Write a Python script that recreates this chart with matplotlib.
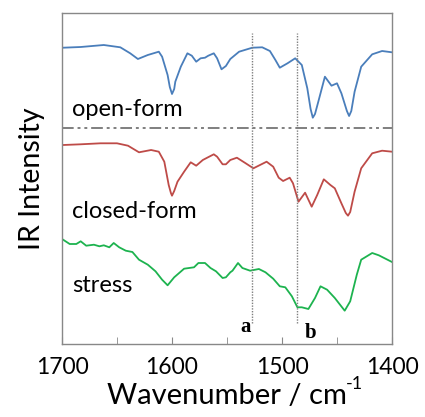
import matplotlib
matplotlib.use("Agg")
import matplotlib.pyplot as plt

# ---- data (wavenumber cm^-1, intensity in arbitrary units) ----
open_wn = [1699, 1683, 1662, 1647, 1638, 1631, 1622, 1612, 1609, 1604, 1602, 1600, 1598, 1597, 1592,
           1586, 1582, 1578, 1574, 1570, 1567, 1562, 1559, 1555, 1551, 1547, 1539, 1527,
           1518, 1511, 1506, 1502, 1495, 1488, 1482, 1477, 1474, 1472, 1470, 1467, 1461, 1455, 1450,
           1446, 1441, 1439, 1437, 1434, 1428, 1418, 1409, 1400]
open_I = [296.3, 297, 299, 296.7, 290.7, 285, 289, 292.3, 287.3, 269, 257, 250, 255, 262.3, 277.3,
          290.7, 288.3, 282.3, 285.7, 286.3, 288.3, 290.7, 285.7, 274.7, 278, 285, 292.3, 296.3,
          296.7, 293, 284, 276.3, 280.7, 285.7, 279, 255.7, 235, 226.3, 230, 242.3, 267.3, 258.3, 260.7,
          250.7, 233, 228, 233, 252.3, 277.3, 289.7, 293, 291.7]

closed_wn = [1699, 1683, 1665, 1650, 1640, 1630, 1619, 1612, 1607, 1603, 1601, 1600, 1598, 1595, 1589,
             1583, 1578, 1572, 1568, 1562, 1559, 1554, 1551, 1547, 1541, 1533, 1526, 1520,
             1514, 1508, 1503, 1499, 1493, 1490, 1485, 1479, 1473, 1468, 1462, 1456, 1452,
             1446, 1442, 1440, 1438, 1434, 1428, 1418, 1409, 1400]
closed_I = [199, 199.7, 200.7, 200.7, 198.3, 191.7, 194, 192.3, 182.3, 159, 151, 148.3, 153, 162.3, 172.3,
            181.7, 178.3, 184, 186.3, 189.7, 187.3, 179.7, 179.7, 184, 186.3, 180.7, 175.7, 179,
            182.3, 177.3, 166.3, 163, 166.3, 160.7, 142.3, 151.3, 137.3, 149, 164.7, 159, 155.7,
            140.7, 131, 128.3, 132, 152.3, 175.7, 190.7, 193.3, 192.3]

stress_wn = [1699, 1693, 1687, 1683, 1678, 1671, 1666, 1662, 1657, 1653, 1648, 1642, 1636,
             1630, 1622, 1615, 1609, 1604, 1598, 1589, 1580, 1576, 1570, 1565, 1560, 1554,
             1551, 1547, 1545, 1540, 1536, 1529, 1521, 1515, 1508, 1502, 1497, 1491, 1486,
             1482, 1476, 1470, 1465, 1459, 1452, 1443, 1438, 1432, 1428, 1418, 1412, 1400]
stress_I = [104.3, 100, 100, 102.7, 98.3, 99.3, 97.7, 98.7, 96.7, 101, 96.7, 93.3, 92,
            84.3, 79.3, 72.7, 64.3, 58.7, 66.7, 75.3, 76.7, 81, 81, 76, 72.7, 66,
            66.7, 71.7, 73.3, 81, 76, 73.3, 75, 71.7, 65.3, 57.7, 56.7, 47.7, 36.7,
            36.7, 35, 46, 57.7, 54.3, 46, 33.3, 42.7, 69.3, 84.3, 91, 88.7, 82]

marker_wn = [1527, 1486]
marker_labels = ["a", "b"]
series_labels = ["open-form", "closed-form", "stress"]
xticks_major = [1700, 1600, 1500, 1400]

FONT = "Lato"

# ---- figure ----
fig = plt.figure(figsize=(4.25, 4.17), dpi=100)
ax = fig.add_axes([62/425, 1 - 344/417, 330/425, 331/417])

ax.plot(open_wn, open_I, color="#4a7ebb", lw=1.3)
ax.plot(closed_wn, closed_I, color="#be4b48", lw=1.3)
ax.plot(stress_wn, stress_I, color="#1db34f", lw=1.3)

# separator
ax.axhline(216, color="#7f7f7f", lw=1.4, dashes=(6, 2, 1.5, 2, 1.5, 2))

# marker lines
for wn in marker_wn:
    ax.vlines(wn, 21, 311, color="#7f7f7f", lw=1.0, linestyles=(0, (1, 1)))

ax.text(1533, 17, marker_labels[0], family="Liberation Serif", weight="bold",
        fontsize=15, ha="center", va="center")
ax.text(1474, 11, marker_labels[1], family="Liberation Serif", weight="bold",
        fontsize=15, ha="center", va="center")

label_y = [228, 126, 52]
for lab, yy in zip(series_labels, label_y):
    ax.text(1691, yy, lab, family=FONT, fontsize=17, ha="left", va="baseline")

ax.set_xlim(1700, 1400)
ax.set_ylim(0, 331)
ax.set_xticks(xticks_major)
ax.set_xticks([1650, 1550, 1450], minor=True)
ax.set_yticks([])
ax.tick_params(axis="x", which="both", direction="in", length=5, color="#888888",
               labelsize=16.5, pad=9)
for lbl in ax.get_xticklabels():
    lbl.set_family(FONT)
for s in ax.spines.values():
    s.set_color("#888888")
    s.set_linewidth(1.0)

xl = ax.set_xlabel("Wavenumber / cm", family=FONT, fontsize=21, labelpad=4)
ax.set_ylabel("IR Intensity", family=FONT, fontsize=20.5, labelpad=12)

fig.canvas.draw()
bb = xl.get_window_extent(fig.canvas.get_renderer())
inv = fig.transFigure.inverted()
x1, y1 = inv.transform((bb.x1, bb.y1))
fig.text(x1 - 1/425, y1 - 9/417, "-1", family=FONT, fontsize=13, ha="left", va="bottom")

fig.savefig("out.png", dpi=100)
